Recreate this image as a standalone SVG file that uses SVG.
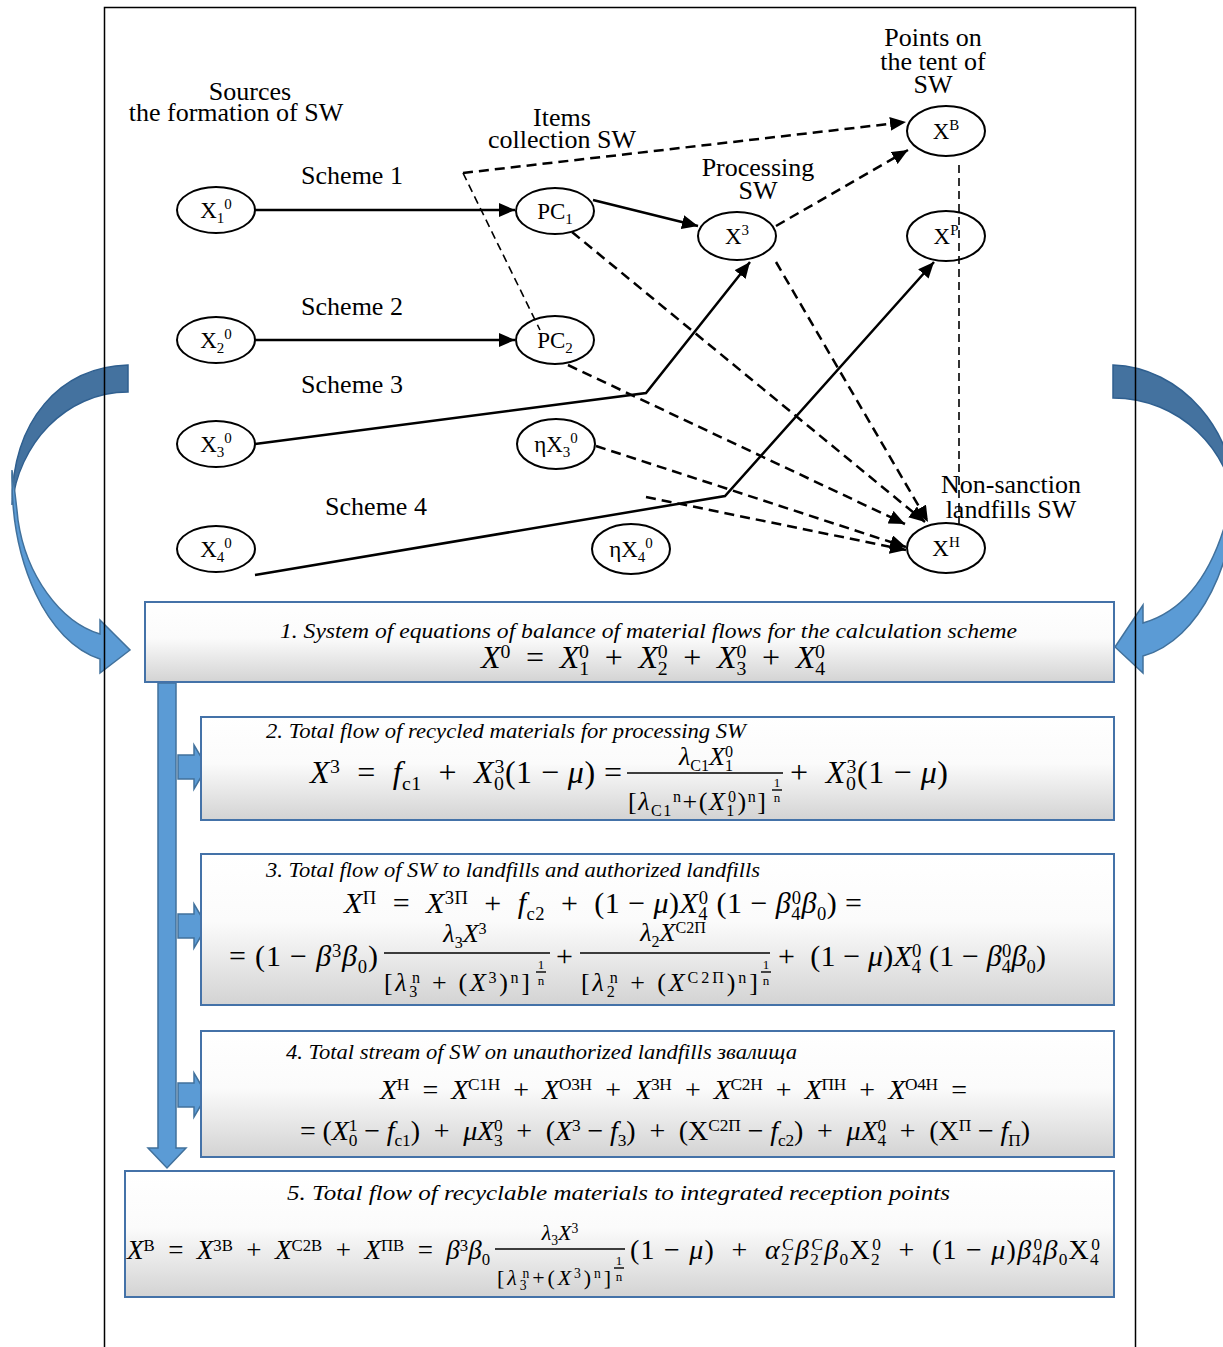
<svg xmlns="http://www.w3.org/2000/svg" width="1223" height="1347" viewBox="0 0 1223 1347">
<style>
.lb{font-family:"Liberation Serif","Times New Roman",serif;font-size:26px;fill:#000;text-anchor:middle}
.nl{font-family:"Liberation Serif","Times New Roman",serif;font-size:23px;fill:#000;text-anchor:middle}
.nl .u{font-size:15px;baseline-shift:9px}
.nl .d{font-size:15px;baseline-shift:-5px}
.nd{fill:#fff;stroke:#000;stroke-width:2}
.s{fill:none;stroke:#000;stroke-width:2.5}
.dk{fill:none;stroke:#000;stroke-width:2.5;stroke-dasharray:10 6}
.dn{fill:none;stroke:#000;stroke-width:1.6;stroke-dasharray:8 5}
.box{fill:url(#gb);stroke:#4472a8;stroke-width:2}
.bl{fill:#5b9bd5;stroke:#41719c;stroke-width:1.5}
.bd{fill:#44729f;stroke:#2f5f8f;stroke-width:1.5}
.tt{font-family:"Liberation Serif","Times New Roman",serif;font-style:italic;font-size:22px;fill:#000}
.f{font-family:"Liberation Serif","DejaVu Serif",serif;fill:#000}
.s32{font-size:32px}.s30{font-size:30px}.s28{font-size:28px}.s27{font-size:27px}.s26{font-size:26px}.s22{font-size:22px}
.i{font-style:italic}
.p{font-size:62%;baseline-shift:0.5em}
.b{font-size:62%;baseline-shift:-0.35em}
.ex{font-family:"Liberation Serif",serif;font-size:13px;text-anchor:middle}
.fl{stroke:#000;stroke-width:1.4}
</style>
<defs>
<linearGradient id="gb" x1="0" y1="0" x2="0" y2="1">
<stop offset="0" stop-color="#ffffff"/><stop offset="0.45" stop-color="#fbfbfb"/><stop offset="1" stop-color="#d3d3d3"/>
</linearGradient>
<marker id="ah" markerUnits="userSpaceOnUse" markerWidth="17" markerHeight="14" refX="16" refY="7" orient="auto">
<path d="M0,0 L16,7 L0,14 Z" fill="#000"/>
</marker>
</defs>
<rect width="1223" height="1347" fill="#fff"/>

<!-- big curved arrows -->
<g id="arrow-left">
<path class="bd" d="M128,365 C60,367 12,420 12,505 C18,445 65,392 128,392 Z"/>
<path class="bl" d="M12,470 C10,565 48,642 100,659 L100,673 L130,650 L100,620 L100,634 C60,622 26,575 18,520 C16,500 14,485 12,470 Z"/>
</g>
<g id="arrow-right">
<path class="bd" d="M1113,365 C1180,367 1238,430 1236,510 C1230,450 1180,398 1113,398 Z"/>
<path class="bl" d="M1236,475 C1238,560 1200,640 1143,656 L1143,673 L1115,647 L1143,605 L1143,623 C1188,610 1222,565 1236,475 Z"/>
</g>

<!-- frame -->
<g id="frame" fill="none" stroke="#000" stroke-width="1.5">
<path d="M104.5,1347 V7.5 H1135.5 V1347"/>
</g>

<!-- labels -->
<g id="labels">
<text class="lb" x="250" y="100">Sources</text>
<text class="lb" x="236" y="121">the formation of SW</text>
<text class="lb" x="562" y="126">Items</text>
<text class="lb" x="562" y="148">collection SW</text>
<text class="lb" x="352" y="184">Scheme 1</text>
<text class="lb" x="352" y="315">Scheme 2</text>
<text class="lb" x="352" y="393">Scheme 3</text>
<text class="lb" x="376" y="515">Scheme 4</text>
<text class="lb" x="758" y="176">Processing</text>
<text class="lb" x="758" y="199">SW</text>
<text class="lb" x="933" y="46">Points on</text>
<text class="lb" x="933" y="70">the tent of</text>
<text class="lb" x="933" y="93">SW</text>
<text class="lb" x="1011" y="493">Non-sanction</text>
<text class="lb" x="1011" y="518">landfills SW</text>
</g>

<!-- nodes -->
<g id="n-x1"><ellipse class="nd" cx="216" cy="210" rx="39" ry="23"/><text class="nl" x="216" y="218">X<tspan class="d">1</tspan><tspan class="u">0</tspan></text></g>
<g id="n-x2"><ellipse class="nd" cx="216" cy="340" rx="39" ry="23"/><text class="nl" x="216" y="348">X<tspan class="d">2</tspan><tspan class="u">0</tspan></text></g>
<g id="n-x3"><ellipse class="nd" cx="216" cy="444" rx="39" ry="23"/><text class="nl" x="216" y="452">X<tspan class="d">3</tspan><tspan class="u">0</tspan></text></g>
<g id="n-x4"><ellipse class="nd" cx="216" cy="549" rx="39" ry="23"/><text class="nl" x="216" y="557">X<tspan class="d">4</tspan><tspan class="u">0</tspan></text></g>
<g id="n-pc1"><ellipse class="nd" cx="555" cy="211" rx="39" ry="23"/><text class="nl" x="555" y="219">PC<tspan class="d">1</tspan></text></g>
<g id="n-pc2"><ellipse class="nd" cx="555" cy="340" rx="39" ry="24"/><text class="nl" x="555" y="348">PC<tspan class="d">2</tspan></text></g>
<g id="n-xp"><ellipse class="nd" cx="737" cy="236" rx="39" ry="24"/><text class="nl" x="737" y="244">X<tspan class="u">3</tspan></text></g>
<g id="n-ex3"><ellipse class="nd" cx="556" cy="444" rx="39" ry="25"/><text class="nl" x="556" y="452">ηX<tspan class="d">3</tspan><tspan class="u">0</tspan></text></g>
<g id="n-ex4"><ellipse class="nd" cx="631" cy="549" rx="39" ry="25"/><text class="nl" x="631" y="557">ηX<tspan class="d">4</tspan><tspan class="u">0</tspan></text></g>
<g id="n-xb"><ellipse class="nd" cx="946" cy="131" rx="39" ry="25"/><text class="nl" x="946" y="139">X<tspan class="u">B</tspan></text></g>
<g id="n-xr"><ellipse class="nd" cx="946" cy="236" rx="39" ry="25"/><text class="nl" x="946" y="244">X<tspan class="u">P</tspan></text></g>
<g id="n-xh"><ellipse class="nd" cx="946" cy="548" rx="39" ry="25"/><text class="nl" x="946" y="556">X<tspan class="u">H</tspan></text></g>

<!-- connectors -->
<g id="connectors">
<line class="s" x1="255" y1="210" x2="515" y2="210" marker-end="url(#ah)"/>
<line class="s" x1="255" y1="340" x2="515" y2="340" marker-end="url(#ah)"/>
<line class="s" x1="593" y1="200" x2="698" y2="226" marker-end="url(#ah)"/>
<polyline class="s" points="255,444 646,393 750,262" marker-end="url(#ah)"/>
<polyline class="s" points="255,575 725,496 934,262" marker-end="url(#ah)"/>
<line class="dk" x1="463" y1="173" x2="906" y2="122" marker-end="url(#ah)"/>
<line class="dn" x1="463" y1="173" x2="540" y2="330"/>
<line class="dk" x1="776" y1="226" x2="908" y2="150" marker-end="url(#ah)"/>
<line class="dn" x1="959" y1="165" x2="959" y2="527"/>
<line class="dk" x1="572" y1="232" x2="925" y2="522" marker-end="url(#ah)"/>
<line class="dk" x1="776" y1="262" x2="928" y2="522" marker-end="url(#ah)"/>
<line class="dk" x1="568" y1="365" x2="905" y2="524" marker-end="url(#ah)"/>
<line class="dk" x1="596" y1="446" x2="906" y2="547" marker-end="url(#ah)"/>
<line class="dk" x1="646" y1="497" x2="906" y2="550" marker-end="url(#ah)"/>
</g>

<!-- vertical block arrow and small arrows -->
<g id="flow-arrows">
<path class="bl" d="M158,683 H176 V1148 H186 L167,1168 L148,1148 H158 Z"/>
<path class="bl" d="M178,755 H194 V745 L207,767 L194,789 V779 H178 Z"/>
<path class="bl" d="M178,914 H194 V904 L207,926 L194,948 V938 H178 Z"/>
<path class="bl" d="M178,1083 H194 V1073 L207,1095 L194,1117 V1107 H178 Z"/>
</g>

<!-- box 1 -->
<g id="box1">
<rect class="box" x="145" y="602" width="969" height="80"/>
<text class="tt" x="280" y="638" textLength="737" lengthAdjust="spacingAndGlyphs">1. System of equations of balance of material flows for the calculation scheme</text>
<text class="f s32" x="481" y="668" textLength="344" lengthAdjust="spacing"><tspan class="i">X</tspan><tspan class="p">0</tspan> &#160;=&#160; <tspan class="i">X</tspan><tspan class="b">1</tspan><tspan class="p" dx="-9.9">0</tspan> &#160;+&#160; <tspan class="i">X</tspan><tspan class="b">2</tspan><tspan class="p" dx="-9.9">0</tspan> &#160;+&#160; <tspan class="i">X</tspan><tspan class="b">3</tspan><tspan class="p" dx="-9.9">0</tspan> &#160;+&#160; <tspan class="i">X</tspan><tspan class="b">4</tspan><tspan class="p" dx="-9.9">0</tspan></text>
</g>

<!-- box 2 -->
<g id="box2">
<rect class="box" x="201" y="717" width="913" height="103"/>
<text class="tt" x="266" y="738" textLength="480" lengthAdjust="spacingAndGlyphs">2. Total flow of recycled materials for processing SW</text>
<text class="f s32" x="310" y="783" textLength="312" lengthAdjust="spacing"><tspan class="i">X</tspan><tspan class="p">3</tspan> &#160;=&#160; <tspan class="i">f</tspan><tspan class="b">c1</tspan> &#160;+&#160; <tspan class="i">X</tspan><tspan class="b">0</tspan><tspan class="p" dx="-9.9">3</tspan>(1 − <tspan class="i">μ</tspan>) =</text>
<text class="f s26" x="706" y="765" text-anchor="middle"><tspan class="i">λ</tspan><tspan class="b">C1</tspan><tspan class="i">X</tspan><tspan class="b">1</tspan><tspan class="p" dx="-8">0</tspan></text>
<line class="fl" x1="627" y1="773" x2="783" y2="773"/>
<text class="f s26" x="628" y="810" textLength="138" lengthAdjust="spacing">[<tspan class="i">λ</tspan><tspan class="b">C1</tspan><tspan class="p">n</tspan>+(<tspan class="i">X</tspan><tspan class="b">1</tspan><tspan class="p" dx="-8">0</tspan>)<tspan class="p">n</tspan>]</text>
<text class="ex" x="777" y="787">1</text><line class="fl" x1="772" y1="790" x2="782" y2="790"/><text class="ex" x="777" y="802">n</text>
<text class="f s32" x="790" y="783" textLength="158" lengthAdjust="spacing">+&#160; <tspan class="i">X</tspan><tspan class="b">0</tspan><tspan class="p" dx="-9.9">3</tspan>(1 − <tspan class="i">μ</tspan>)</text>
</g>

<!-- box 3 -->
<g id="box3">
<rect class="box" x="201" y="854" width="913" height="151"/>
<text class="tt" x="266" y="877" textLength="494" lengthAdjust="spacingAndGlyphs">3. Total flow of SW to landfills and authorized landfills</text>
<text class="f s30" x="344" y="913" textLength="518" lengthAdjust="spacing"><tspan class="i">X</tspan><tspan class="p">П</tspan> &#160;=&#160; <tspan class="i">X</tspan><tspan class="p">3П</tspan> &#160;+&#160; <tspan class="i">f</tspan><tspan class="b">c2</tspan> &#160;+&#160; (1 − <tspan class="i">μ</tspan>)<tspan class="i">X</tspan><tspan class="b">4</tspan><tspan class="p" dx="-9.3">0</tspan> (1 − <tspan class="i">β</tspan><tspan class="b">4</tspan><tspan class="p" dx="-9.3">0</tspan><tspan class="i">β</tspan><tspan class="b">0</tspan>) =</text>
<text class="f s30" x="229" y="966" textLength="149" lengthAdjust="spacing">= (1 − <tspan class="i">β</tspan><tspan class="p">3</tspan><tspan class="i">β</tspan><tspan class="b">0</tspan>)</text>
<text class="f s26" x="465" y="942" text-anchor="middle"><tspan class="i">λ</tspan><tspan class="b">3</tspan><tspan class="i">X</tspan><tspan class="p">3</tspan></text>
<line class="fl" x1="384" y1="953" x2="550" y2="953"/>
<text class="f s26" x="384" y="991" textLength="146" lengthAdjust="spacing">[<tspan class="i">λ</tspan><tspan class="b">3</tspan><tspan class="p" dx="-8">n</tspan> + (<tspan class="i">X</tspan><tspan class="p">3</tspan>)<tspan class="p">n</tspan>]</text>
<text class="ex" x="541" y="969">1</text><line class="fl" x1="536" y1="972" x2="546" y2="972"/><text class="ex" x="541" y="985">n</text>
<text class="f s30" x="556" y="966">+</text>
<text class="f s26" x="673" y="941" text-anchor="middle"><tspan class="i">λ</tspan><tspan class="b">2</tspan><tspan class="i">X</tspan><tspan class="p">C2П</tspan></text>
<line class="fl" x1="580" y1="953" x2="770" y2="953"/>
<text class="f s26" x="581" y="991" textLength="177" lengthAdjust="spacing">[<tspan class="i">λ</tspan><tspan class="b">2</tspan><tspan class="p" dx="-8">n</tspan> + (<tspan class="i">X</tspan><tspan class="p">C2П</tspan>)<tspan class="p">n</tspan>]</text>
<text class="ex" x="766" y="969">1</text><line class="fl" x1="761" y1="972" x2="771" y2="972"/><text class="ex" x="766" y="985">n</text>
<text class="f s30" x="778" y="966" textLength="268" lengthAdjust="spacing">+&#160; (1 − <tspan class="i">μ</tspan>)<tspan class="i">X</tspan><tspan class="b">4</tspan><tspan class="p" dx="-9.3">0</tspan> (1 − <tspan class="i">β</tspan><tspan class="b">4</tspan><tspan class="p" dx="-9.3">0</tspan><tspan class="i">β</tspan><tspan class="b">0</tspan>)</text>
</g>

<!-- box 4 -->
<g id="box4">
<rect class="box" x="201" y="1031" width="913" height="126"/>
<text class="tt" x="286" y="1059" textLength="511" lengthAdjust="spacingAndGlyphs">4. Total stream of SW on unauthorized landfills звалища</text>
<text class="f s28" x="380" y="1099" textLength="587" lengthAdjust="spacing"><tspan class="i">X</tspan><tspan class="p">H</tspan> &#160;=&#160; <tspan class="i">X</tspan><tspan class="p">C1H</tspan> &#160;+&#160; <tspan class="i">X</tspan><tspan class="p">O3H</tspan> &#160;+&#160; <tspan class="i">X</tspan><tspan class="p">3H</tspan> &#160;+&#160; <tspan class="i">X</tspan><tspan class="p">C2H</tspan> &#160;+&#160; <tspan class="i">X</tspan><tspan class="p">ПH</tspan> &#160;+&#160; <tspan class="i">X</tspan><tspan class="p">O4H</tspan> &#160;=</text>
<text class="f s28" x="300" y="1140" textLength="730" lengthAdjust="spacing">= (<tspan class="i">X</tspan><tspan class="b">0</tspan><tspan class="p" dx="-8.7">1</tspan> − <tspan class="i">f</tspan><tspan class="b">c1</tspan>) &#160;+&#160; <tspan class="i">μX</tspan><tspan class="b">3</tspan><tspan class="p" dx="-8.7">0</tspan> &#160;+&#160; (<tspan class="i">X</tspan><tspan class="p">3</tspan> − <tspan class="i">f</tspan><tspan class="b">3</tspan>) &#160;+&#160; (X<tspan class="p">C2П</tspan> − <tspan class="i">f</tspan><tspan class="b">c2</tspan>) &#160;+&#160; <tspan class="i">μX</tspan><tspan class="b">4</tspan><tspan class="p" dx="-8.7">0</tspan> &#160;+&#160; (X<tspan class="p">П</tspan> − <tspan class="i">f</tspan><tspan class="b">П</tspan>)</text>
</g>

<!-- box 5 -->
<g id="box5">
<rect class="box" x="125" y="1171" width="989" height="126"/>
<text class="tt" x="287" y="1200" textLength="663" lengthAdjust="spacingAndGlyphs">5. Total flow of recyclable materials to integrated reception points</text>
<text class="f s27" x="127" y="1259" textLength="363" lengthAdjust="spacing"><tspan class="i">X</tspan><tspan class="p">B</tspan> &#160;=&#160; <tspan class="i">X</tspan><tspan class="p">3B</tspan> &#160;+&#160; <tspan class="i">X</tspan><tspan class="p">C2B</tspan> &#160;+&#160; <tspan class="i">X</tspan><tspan class="p">ПB</tspan> &#160;=&#160; <tspan class="i">β</tspan><tspan class="p">3</tspan><tspan class="i">β</tspan><tspan class="b">0</tspan></text>
<text class="f s22" x="560" y="1240" text-anchor="middle"><tspan class="i">λ</tspan><tspan class="b">3</tspan><tspan class="i">X</tspan><tspan class="p">3</tspan></text>
<line class="fl" x1="495" y1="1249" x2="625" y2="1249"/>
<text class="f s22" x="497" y="1285" textLength="114" lengthAdjust="spacing">[<tspan class="i">λ</tspan><tspan class="b">3</tspan><tspan class="p" dx="-6.8">n</tspan>+(<tspan class="i">X</tspan><tspan class="p">3</tspan>)<tspan class="p">n</tspan>]</text>
<text class="ex" x="619" y="1265">1</text><line class="fl" x1="614" y1="1268" x2="624" y2="1268"/><text class="ex" x="619" y="1281">n</text>
<text class="f s28" x="630" y="1259" textLength="470" lengthAdjust="spacing">(1 − <tspan class="i">μ</tspan>) &#160;+&#160; <tspan class="i">α</tspan><tspan class="b">2</tspan><tspan class="p" dx="-8.7">C</tspan><tspan class="i">β</tspan><tspan class="b">2</tspan><tspan class="p" dx="-8.7">C</tspan><tspan class="i">β</tspan><tspan class="b">0</tspan>X<tspan class="b">2</tspan><tspan class="p" dx="-8.7">0</tspan> &#160;+&#160; (1 − <tspan class="i">μ</tspan>)<tspan class="i">β</tspan><tspan class="b">4</tspan><tspan class="p" dx="-8.7">0</tspan><tspan class="i">β</tspan><tspan class="b">0</tspan>X<tspan class="b">4</tspan><tspan class="p" dx="-8.7">0</tspan></text>
</g>
</svg>
